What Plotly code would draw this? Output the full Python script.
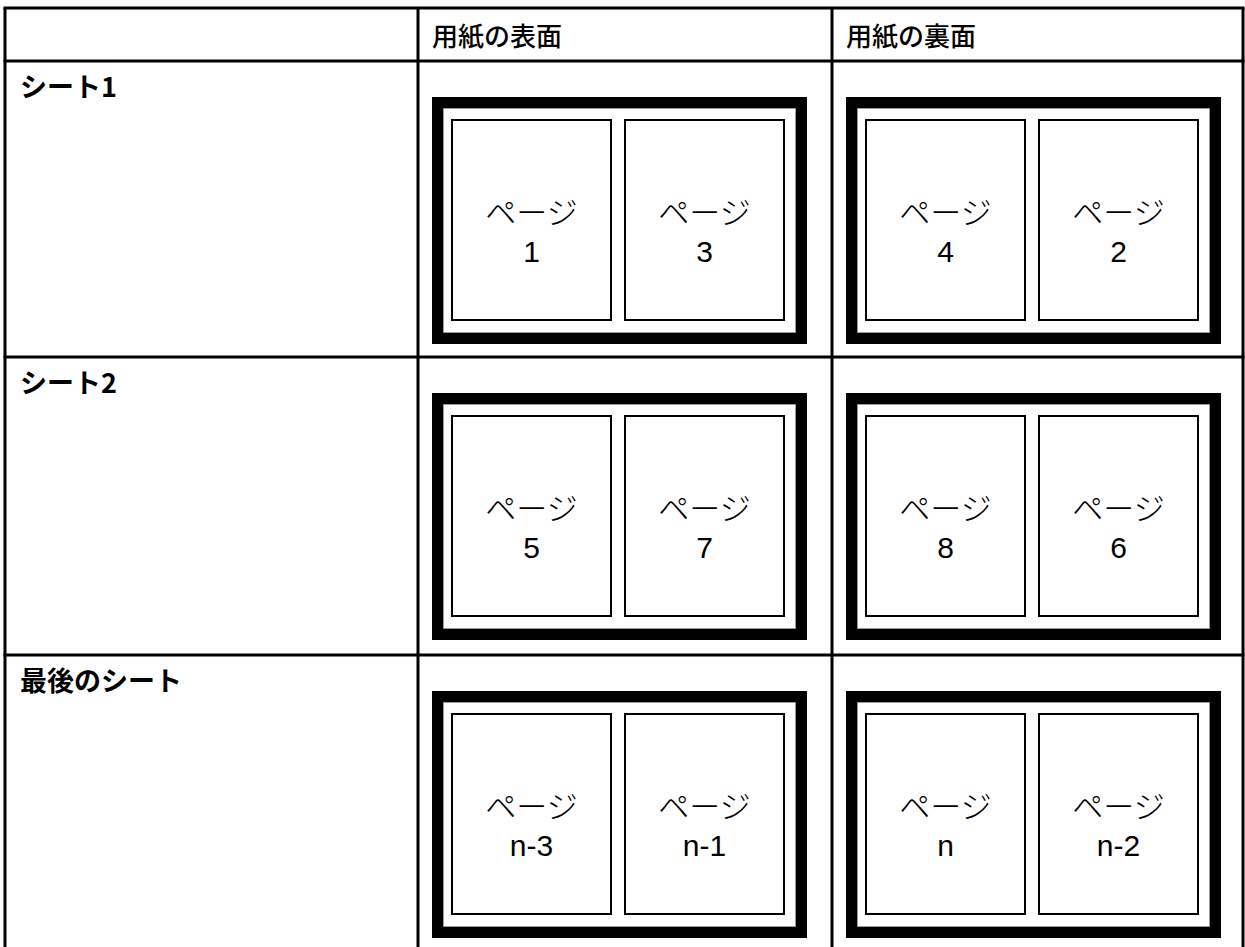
import plotly.graph_objects as go

# ---------------- data ----------------
column_headers = ["用紙の表面", "用紙の裏面"]
row_labels = ["シート1", "シート2", "最後のシート"]
page_word = "ページ"
front_pages = [["1", "3"], ["5", "7"], ["n-3", "n-1"]]
back_pages = [["4", "2"], ["8", "6"], ["n", "n-2"]]

# ---------------- layout constants ----------------
W, H = 1245, 947
col_edges = [5, 418, 832, 1243]
row_edges = [8, 61, 357, 655, 990]
LINE = 3

CJK = "Noto Sans CJK JP"
NUM = "Liberation Sans, Noto Sans CJK JP"

fig = go.Figure()
shapes = []

# table grid
for x in col_edges:
    shapes.append(dict(type="line", x0=x, x1=x, y0=row_edges[0], y1=row_edges[-1],
                       line=dict(color="black", width=LINE)))
for y in row_edges[:-1]:
    shapes.append(dict(type="line", x0=col_edges[0] - 1.5, x1=col_edges[-1] + 1.5, y0=y, y1=y,
                       line=dict(color="black", width=LINE)))

annotations = []
# header texts
for j, h in enumerate(column_headers):
    annotations.append(dict(x=col_edges[j + 1] + 12, y=(row_edges[0] + row_edges[1]) / 2 - 0.5,
                            text=h, showarrow=False, xanchor="left", yanchor="middle",
                            font=dict(family=CJK, size=26, color="black", weight=500)))
# row labels
for i, r in enumerate(row_labels):
    annotations.append(dict(x=col_edges[0] + 13, y=row_edges[i + 1] + 24,
                            text=r, showarrow=False, xanchor="left", yanchor="middle",
                            font=dict(family=CJK, size=27, color="black", weight="bold")))

word_x, word_y, num_x, num_y, nums = [], [], [], [], []
for i in range(len(row_labels)):
    rt = row_edges[i + 1]
    for j, pages in enumerate([front_pages[i], back_pages[i]]):
        cl = col_edges[j + 1]
        # sheet: thick black frame
        shapes.append(dict(type="rect", x0=cl + 14, x1=cl + 389, y0=rt + 36, y1=rt + 283,
                           fillcolor="black", line=dict(width=0), layer="below"))
        shapes.append(dict(type="rect", x0=cl + 25.5, x1=cl + 377.5, y0=rt + 47.5, y1=rt + 271.5,
                           fillcolor="white", line=dict(color="#9a9a9a", width=1), layer="below"))
        page_x = [(cl + 34, cl + 193), (cl + 207, cl + 366)]
        for k, (a, b) in enumerate(page_x):
            shapes.append(dict(type="rect", x0=a, x1=b, y0=rt + 59, y1=rt + 259,
                               fillcolor="white", line=dict(color="black", width=2), layer="below"))
            cx = (a + b) / 2
            word_x.append(cx)
            word_y.append(rt + 155)
            num_x.append(cx)
            num_y.append(rt + 193)
            nums.append(pages[k])

fig.add_trace(go.Scatter(x=word_x, y=word_y, mode="text", text=[page_word] * len(word_x),
                         textposition="middle center",
                         textfont=dict(family=CJK, size=31, color="black", weight=300),
                         hoverinfo="skip", showlegend=False))
fig.add_trace(go.Scatter(x=num_x, y=num_y, mode="text", text=nums,
                         textposition="middle center",
                         textfont=dict(family=NUM, size=30, color="black"),
                         hoverinfo="skip", showlegend=False))

fig.update_layout(
    width=W, height=H,
    margin=dict(l=0, r=0, t=0, b=0),
    paper_bgcolor="white", plot_bgcolor="white",
    xaxis=dict(range=[0, W], visible=False, fixedrange=True),
    yaxis=dict(range=[H, 0], visible=False, fixedrange=True),
    shapes=shapes, annotations=annotations,
    showlegend=False,
)

fig.write_html("out.html", config={"displayModeBar": False},
               post_script="document.body.style.margin='0';")
